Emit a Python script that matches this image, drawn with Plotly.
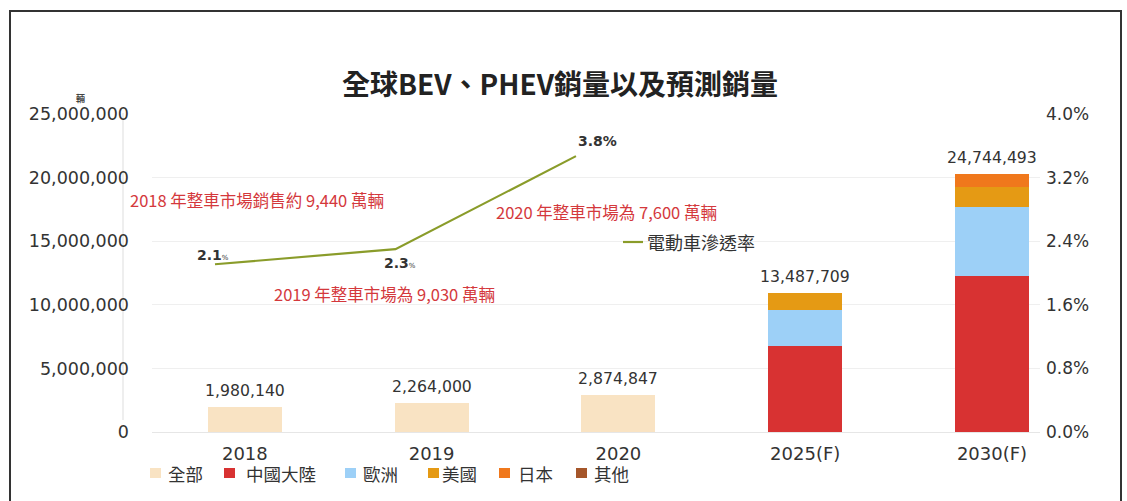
import plotly.graph_objects as go

# ---------------- data ----------------
categories = ["2018", "2019", "2020", "2025(F)", "2030(F)"]
total_all = [1980140, 2264000, 2874847, None, None]          # 全部
china = [None, None, None, 6800000, 12280000]                  # 中國大陸
europe = [None, None, None, 2800000, 5400000]                  # 歐洲
usa = [None, None, None, 1310000, 1620000]                     # 美國
japan = [None, None, None, 0, 990000]                          # 日本
others = [None, None, None, 0, 0]                              # 其他
total_labels = [1980140, 2264000, 2874847, 13487709, 24744493]

line_years = ["2018", "2019", "2020"]
penetration = [2.11, 2.30, 3.47]          # plotted position (%)
penetration_labels = ["2.1", "2.3", "3.8"]
line_name = "電動車滲透率"

notes = [
    "2018 年整車市場銷售約 9,440 萬輛",
    "2020 年整車市場為 7,600 萬輛",
    "2019 年整車市場為 9,030 萬輛",
]

left_ticks = [0, 5000000, 10000000, 15000000, 20000000, 25000000]
right_ticks = [0, 0.8, 1.6, 2.4, 3.2, 4.0]

# ---------------- geometry helpers ----------------
W, H = 1127, 501
L, R, T, B = 152, 1040, 114, 432
def px_x(px):
    return (px - L) / (R - L)
def px_y(py):
    return (B - py) / (B - T)

FONT = "'DejaVu Sans', 'Noto Sans CJK TC', sans-serif"
CJK = "'Noto Sans CJK TC', 'DejaVu Sans', sans-serif"

colors = {
    "全部": "#f9e3c3",
    "中國大陸": "#d83232",
    "歐洲": "#9dd0f7",
    "美國": "#e59a14",
    "日本": "#f0781c",
    "其他": "#a5562a",
}
line_color = "#8a9c2a"

fig = go.Figure()
series = [("全部", total_all), ("中國大陸", china), ("歐洲", europe),
          ("美國", usa), ("日本", japan), ("其他", others)]
for name, vals in series:
    fig.add_trace(go.Bar(
        x=categories, y=vals, name=name, marker_color=colors[name],
        marker_line_width=0, xaxis="x", yaxis="y",
        hoverinfo="skip", showlegend=False,
    ))

fig.add_trace(go.Scatter(
    x=line_years, y=penetration, name=line_name, mode="lines",
    line=dict(color=line_color, width=2.2), xaxis="x2", yaxis="y2",
    hoverinfo="skip", showlegend=False,
))

# bar total labels
for i, cat in enumerate(categories):
    s = 0
    for _, vals in series:
        if vals[i]:
            s += vals[i]
    fig.add_annotation(
        x=i, y=s, xref="x", yref="y",
        text=f"{total_labels[i]:,}", showarrow=False,
        xanchor="center", yanchor="bottom", yshift=5,
        font=dict(family=FONT, size=15.7, color="#333333"),
    )

# line labels
label_offsets = [(-2, 9), (5, -14), (22, 15)]
for i, yr in enumerate(line_years):
    if i < 2:
        txt = f"<b>{penetration_labels[i]}</b><span style='font-size:7px'>%</span>"
    else:
        txt = f"<b>{penetration_labels[i]}%</b>"
    fig.add_annotation(
        x=i, y=penetration[i], xref="x2", yref="y2", text=txt,
        showarrow=False, xanchor="center", yanchor="middle",
        xshift=label_offsets[i][0], yshift=label_offsets[i][1],
        font=dict(family=FONT, size=14, color="#333333"),
    )

# red notes
note_pos = [(257, 200), (606, 212), (384, 294)]
for txt, (px, py) in zip(notes, note_pos):
    fig.add_annotation(
        x=px_x(px), y=px_y(py), xref="paper", yref="paper", text=txt,
        showarrow=False, xanchor="center", yanchor="middle",
        font=dict(family=CJK, size=16.5, color="#d4383c"),
    )

# unit label
fig.add_annotation(
    x=px_x(80), y=px_y(99), xref="paper", yref="paper", text="<b>輛</b>",
    showarrow=False, xanchor="center", yanchor="middle",
    font=dict(family=CJK, size=9, color="#444444"),
)

# custom legend for bar series
leg_marker_x = [150, 224, 345, 428, 499, 576]
leg_text_x = [166, 244, 361, 440, 516, 592]
leg_y = 473
for (name, _), mx, tx in zip(series, leg_marker_x, leg_text_x):
    fig.add_shape(type="rect", xref="paper", yref="paper",
                  x0=px_x(mx), x1=px_x(mx + 11), y0=px_y(leg_y + 5), y1=px_y(leg_y - 5),
                  fillcolor=colors[name], line=dict(width=0))
    fig.add_annotation(x=px_x(tx), y=px_y(leg_y), xref="paper", yref="paper",
                       text=name, showarrow=False, xanchor="left", yanchor="middle",
                       font=dict(family=CJK, size=17.5, color="#333333"))

# legend for the line
fig.add_shape(type="line", xref="paper", yref="paper",
              x0=px_x(623), x1=px_x(643), y0=px_y(242), y1=px_y(242),
              line=dict(color=line_color, width=2.2))
fig.add_annotation(x=px_x(645), y=px_y(242), xref="paper", yref="paper",
                   text=line_name, showarrow=False, xanchor="left", yanchor="middle",
                   font=dict(family=CJK, size=18, color="#333333"))

# frame
fig.add_shape(type="rect", xref="paper", yref="paper",
              x0=px_x(10), x1=px_x(1121), y0=px_y(11), y1=px_y(520),
              line=dict(color="#333333", width=2), layer="below")
fig.add_shape(type="line", xref="paper", yref="paper",
              x0=px_x(123), x1=px_x(123), y0=px_y(113), y1=px_y(420),
              line=dict(color="#dddddd", width=1), layer="below")

fig.update_layout(
    width=W, height=H,
    margin=dict(l=L, r=W - R, t=T, b=H - B),
    paper_bgcolor="white", plot_bgcolor="white",
    barmode="stack", bargap=0.604, showlegend=False,
    title=dict(text="<b>全球BEV、PHEV銷量以及預測銷量</b>", x=560 / W, xref="container",
               xanchor="center", y=1 - 85 / H, yref="container", yanchor="middle",
               font=dict(family=CJK, size=28, color="#222222")),
    xaxis=dict(type="category", range=[-0.497, 4.257], showgrid=False,
               showline=True, linecolor="#e6e6e6", linewidth=1, ticks="",
               ticklabelstandoff=5,
               tickfont=dict(family=FONT, size=18, color="#333333"), fixedrange=True),
    xaxis2=dict(type="category", overlaying="x", range=[-0.349, 4.571],
                visible=False, categoryorder="array", categoryarray=categories),
    yaxis=dict(range=[0, 25000000], tickvals=left_ticks,
               ticktext=[f"{v:,}" for v in left_ticks], showgrid=True,
               gridcolor="#efefef", zeroline=False, ticks="", ticklabelstandoff=22,
               tickfont=dict(family=FONT, size=17.5, color="#333333")),
    yaxis2=dict(range=[0, 4.0], overlaying="y", side="right", tickvals=right_ticks,
                ticktext=[f"{v:.1f}%" for v in right_ticks], showgrid=False,
                zeroline=False, ticks="", ticklabelstandoff=5,
                tickfont=dict(family=FONT, size=17, color="#333333")),
)

fig.write_html("out.html", config={"displayModeBar": False},
               post_script="document.body.style.margin='0px';")
